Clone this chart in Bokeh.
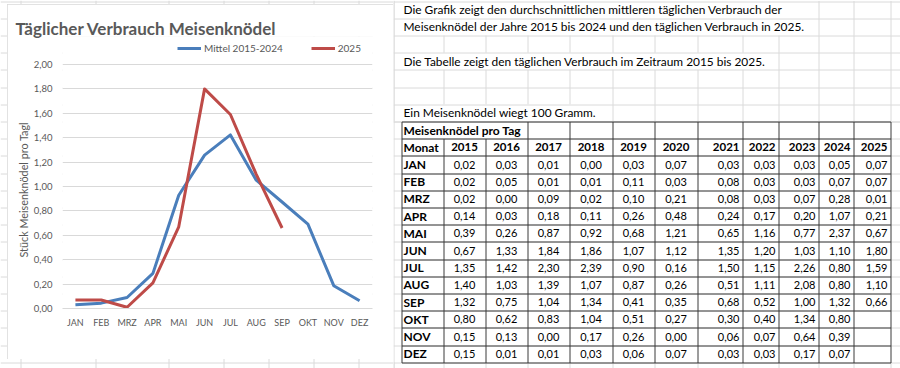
from bokeh.plotting import figure
from bokeh.models import (ColumnDataSource, FactorRange, Range1d, FixedTicker,
                          Legend, LegendItem, Title)
from bokeh.embed import file_html
from bokeh.resources import INLINE
from bokeh.core.properties import value

# ---------------- data ----------------
months = ["JAN", "FEB", "MRZ", "APR", "MAI", "JUN", "JUL", "AUG", "SEP", "OKT", "NOV", "DEZ"]
years = ["2015", "2016", "2017", "2018", "2019", "2020", "2021", "2022", "2023", "2024", "2025"]

v2015 = [0.02, 0.02, 0.02, 0.14, 0.39, 0.67, 1.35, 1.40, 1.32, 0.80, 0.15, 0.15]
v2016 = [0.03, 0.05, 0.00, 0.03, 0.26, 1.33, 1.42, 1.03, 0.75, 0.62, 0.13, 0.01]
v2017 = [0.01, 0.01, 0.09, 0.18, 0.87, 1.84, 2.30, 1.39, 1.04, 0.83, 0.00, 0.01]
v2018 = [0.00, 0.01, 0.02, 0.11, 0.92, 1.86, 2.39, 1.07, 1.34, 1.04, 0.17, 0.03]
v2019 = [0.03, 0.11, 0.10, 0.26, 0.68, 1.07, 0.90, 0.87, 0.41, 0.51, 0.26, 0.06]
v2020 = [0.07, 0.03, 0.21, 0.48, 1.21, 1.12, 0.16, 0.26, 0.35, 0.27, 0.00, 0.07]
v2021 = [0.03, 0.08, 0.08, 0.24, 0.65, 1.35, 1.50, 0.51, 0.68, 0.30, 0.06, 0.03]
v2022 = [0.03, 0.03, 0.03, 0.17, 1.16, 1.20, 1.15, 1.11, 0.52, 0.40, 0.07, 0.03]
v2023 = [0.03, 0.03, 0.07, 0.20, 0.77, 1.03, 2.26, 2.08, 1.00, 1.34, 0.64, 0.17]
v2024 = [0.05, 0.07, 0.28, 1.07, 2.37, 1.10, 0.80, 0.80, 1.32, 0.80, 0.39, 0.07]
v2025 = [0.07, 0.07, 0.01, 0.21, 0.67, 1.80, 1.59, 1.10, 0.66]

mittel_2015_2024 = [0.030, 0.044, 0.090, 0.288, 0.928, 1.257, 1.423, 1.052, 0.873, 0.691, 0.187, 0.063]

y_ticks = [0.0, 0.2, 0.4, 0.6, 0.8, 1.0, 1.2, 1.4, 1.6, 1.8, 2.0]
y_tick_labels = ["0,00", "0,20", "0,40", "0,60", "0,80", "1,00", "1,20", "1,40", "1,60", "1,80", "2,00"]

chart_title = "Täglicher Verbrauch Meisenknödel"
y_title = "Stück Meisenknödel pro Tagl"
series_names = ["Mittel 2015-2024", "2025"]
notes = [
    "Die Grafik zeigt den durchschnittlichen mittleren täglichen Verbrauch der",
    "Meisenknödel der Jahre 2015 bis 2024 und den täglichen Verbrauch in 2025.",
    "Die Tabelle zeigt den täglichen Verbrauch im Zeitraum 2015 bis 2025.",
    "Ein Meisenknödel wiegt 100 Gramm.",
]
table_title = "Meisenknödel pro Tag"
month_header = "Monat"

table_values = {"2015": v2015, "2016": v2016, "2017": v2017, "2018": v2018,
                "2019": v2019, "2020": v2020, "2021": v2021, "2022": v2022,
                "2023": v2023, "2024": v2024, "2025": v2025}

# ---------------- style ----------------
FONT = "Lato"
GRAY = "#595959"
BLUE = "#4A7EBB"
RED = "#BE4B48"
GRID = "#d9d9d9"
SHEET = "#dadada"
BORDER = "#3a3a3a"

SHEET_ROW_H = 17.2
SHEET_ROW0 = 0.6
N_SHEET_ROWS = 22

def px(v):
    return round(v) + 0.5

# ---------------- worksheet background (left part) ----------------
LEFT_SHEET_COLS = [20, 95, 168, 223, 268, 313, 358, 393]
back = figure(width=393, height=368, x_range=Range1d(0, 393),
              y_range=Range1d(368, 0), x_axis_type=None, y_axis_type=None,
              output_backend="svg", toolbar_location=None, min_border=0,
              outline_line_color=None, background_fill_color="white",
              border_fill_color="white",
              styles={"position": "absolute", "left": "0px", "top": "0px"})
bh = [px(SHEET_ROW0 + k * SHEET_ROW_H) for k in range(N_SHEET_ROWS)]
back.segment(x0=[0] * len(bh), y0=bh, x1=[393] * len(bh), y1=bh,
             line_color=SHEET, line_width=1)
bv = [px(c) for c in LEFT_SHEET_COLS]
back.segment(x0=bv, y0=[0] * len(bv), x1=bv, y1=[368] * len(bv),
             line_color=SHEET, line_width=1)

# ---------------- chart ----------------
Y_TOP = 2.2295   # frame extends above 2,00 to hold the legend row
chart = figure(width=386, height=355,
               x_range=FactorRange(*months, range_padding=0),
               y_range=Range1d(0, Y_TOP),
               output_backend="svg", toolbar_location=None,
               min_border_left=55, min_border_right=21,
               min_border_top=32, min_border_bottom=51,
               background_fill_color="white", border_fill_color="white",
               outline_line_color=None,
               styles={"position": "absolute", "left": "7px", "top": "4px",
                       "outline": "1px solid #d9d9d9", "outline-offset": "-1px"})

src_m = ColumnDataSource(dict(month=months, val=mittel_2015_2024))
src_25 = ColumnDataSource(dict(month=months[:len(v2025)], val=v2025))
r1 = chart.line("month", "val", source=src_m, line_color=BLUE, line_width=3,
                line_join="round")
r2 = chart.line("month", "val", source=src_25, line_color=RED, line_width=3,
                line_join="round")

ticker = FixedTicker(ticks=y_ticks)
yax = chart.yaxis[0]
yax.ticker = ticker
chart.ygrid[0].ticker = ticker
yax.major_label_overrides = {t: l for t, l in zip(y_ticks, y_tick_labels)}
yax.axis_line_color = None
yax.major_tick_line_color = None
yax.minor_tick_line_color = None
yax.major_tick_in = 0
yax.major_tick_out = 0
yax.minor_tick_out = 0
yax.major_label_standoff = 10
yax.major_label_text_font = FONT
yax.major_label_text_font_size = "9.5px"
yax.major_label_text_color = GRAY

# vertical axis title, anchored at its lower end so it centres on 0..2
chart.add_layout(Title(text=y_title, text_font=FONT, text_font_style="normal",
                       text_font_size="10.8px", text_color=GRAY,
                       align="left", offset=51, standoff=2), "left")

xax = chart.xaxis[0]
xax.axis_line_color = GRID
xax.major_tick_line_color = None
xax.minor_tick_line_color = None
xax.major_tick_in = 0
xax.major_tick_out = 0
xax.major_label_standoff = 8
xax.major_label_text_font = FONT
xax.major_label_text_font_size = "9px"
xax.major_label_text_color = GRAY

chart.xgrid.grid_line_color = None
chart.ygrid.grid_line_color = GRID
chart.ygrid.grid_line_width = 1

chart.title.text = chart_title
chart.title.text_font = FONT
chart.title.text_font_style = "bold"
chart.title.text_font_size = "17px"
chart.title.text_color = GRAY
chart.title.align = "left"
chart.title.offset = -47
chart.title.standoff = -5

legend = Legend(items=[LegendItem(label=series_names[0], renderers=[r1]),
                       LegendItem(label=series_names[1], renderers=[r2])],
                orientation="horizontal", location=(115, 254),
                padding=0, margin=0, spacing=28, label_standoff=3,
                glyph_width=24, glyph_height=12, label_height=12,
                label_text_font=FONT, label_text_font_size="10px",
                label_text_color=GRAY, border_line_color=None,
                background_fill_alpha=0)
chart.add_layout(legend)

# ---------------- sheet + table ----------------
table = figure(width=507, height=368, x_range=Range1d(393, 900),
               y_range=Range1d(368, 0), x_axis_type=None, y_axis_type=None,
               output_backend="svg", toolbar_location=None, min_border=0,
               outline_line_color=None, background_fill_color="white",
               border_fill_color="white",
               styles={"position": "absolute", "left": "393px", "top": "0px"})

SHEET_COLS = [393, 443, 485, 527, 569, 612, 654, 697, 742, 778, 818, 853, 890]
TABLE_COLS = [401, 443, 485, 527, 569, 612, 654, 697, 742, 778, 818, 853, 890]
TABLE_TOP = 121
ROW_H = 17.2
N_ROWS = 2 + len(months)
TEXT_X = 403
note_rows = [0, 1, 3, 6]
overflow_end = {0: 800, 1: 800, 3: 765, 6: 600}

sheet_bounds = [TABLE_TOP - k * SHEET_ROW_H for k in range(7, -1, -1)]
table_bounds = [TABLE_TOP + i * ROW_H for i in range(N_ROWS + 1)]

# sheet gridlines
hx0, hx1, hy = [], [], []
for yb in sheet_bounds + table_bounds:
    hx0.append(393); hx1.append(900); hy.append(px(yb))
table.segment(x0=hx0, y0=hy, x1=hx1, y1=hy, line_color=SHEET, line_width=1)

vx, vy0, vy1 = [], [], []
for r in range(7):
    y0, y1 = sheet_bounds[r], sheet_bounds[r + 1]
    end = overflow_end.get(r, 0)
    for xc in SHEET_COLS:
        if TEXT_X < xc < end:
            continue
        vx.append(px(xc)); vy0.append(y0); vy1.append(y1)
for xc in SHEET_COLS:
    vx.append(px(xc)); vy0.append(table_bounds[-1]); vy1.append(368)
vx.append(px(SHEET_COLS[0])); vy0.append(0); vy1.append(368)
table.segment(x0=vx, y0=vy0, x1=vx, y1=vy1, line_color=SHEET, line_width=1)

# notes
note_src = ColumnDataSource(dict(
    x=[TEXT_X] * len(notes),
    y=[(sheet_bounds[r] + sheet_bounds[r + 1]) / 2 for r in note_rows],
    t=notes))
table.text(x="x", y="y", text="t", source=note_src, text_font=value(FONT),
           text_font_size=value("11.9px"), text_color="#000000",
           text_baseline="middle", text_align="left")

# table borders
bx0, bx1, by = [], [], []
for yb in table_bounds:
    bx0.append(px(TABLE_COLS[0])); bx1.append(px(TABLE_COLS[-1])); by.append(px(yb))
table.segment(x0=bx0, y0=by, x1=bx1, y1=by, line_color=BORDER, line_width=1)
cx, cy0, cy1 = [], [], []
for xc in TABLE_COLS:
    top = table_bounds[0] if xc not in (TABLE_COLS[1], TABLE_COLS[2]) else table_bounds[1]
    cx.append(px(xc)); cy0.append(px(top)); cy1.append(px(table_bounds[-1]))
table.segment(x0=cx, y0=cy0, x1=cx, y1=cy1, line_color=BORDER, line_width=1)

def row_center(i):
    return TABLE_TOP + (i + 0.5) * ROW_H

def fmt(v):
    return f"{v:.2f}".replace(".", ",")

label_left = dict(x=[TEXT_X, TEXT_X], y=[row_center(0), row_center(1)],
                  t=[table_title, month_header])
for i, m in enumerate(months):
    label_left["x"].append(TEXT_X); label_left["y"].append(row_center(i + 2))
    label_left["t"].append(m)
bold_center = dict(x=[], y=[], t=[])
bold_right = dict(x=[], y=[], t=[])
norm_center = dict(x=[], y=[], t=[])
norm_right = dict(x=[], y=[], t=[])
for j, yr in enumerate(years):
    left, right = TABLE_COLS[j + 1], TABLE_COLS[j + 2]
    centered = j < 6
    hx = (left + right) / 2 if centered else right - 3
    hdr = bold_center if centered else bold_right
    hdr["x"].append(hx); hdr["y"].append(row_center(1)); hdr["t"].append(yr)
    tgt = norm_center if centered else norm_right
    for i, v in enumerate(table_values[yr]):
        tgt["x"].append(hx); tgt["y"].append(row_center(i + 2)); tgt["t"].append(fmt(v))

for data, style, align, size in [(label_left, "bold", "left", "12px"),
                                 (bold_center, "bold", "center", "11.5px"),
                                 (bold_right, "bold", "right", "11.5px"),
                                 (norm_center, "normal", "center", "11px"),
                                 (norm_right, "normal", "right", "11px")]:
    table.text(x="x", y="y", text="t", source=ColumnDataSource(data),
               text_font=value(FONT), text_font_size=value(size),
               text_font_style=style, text_color="#000000",
               text_baseline="middle", text_align=align)

open("out.html", "w").write(file_html([back, chart, table], INLINE))
